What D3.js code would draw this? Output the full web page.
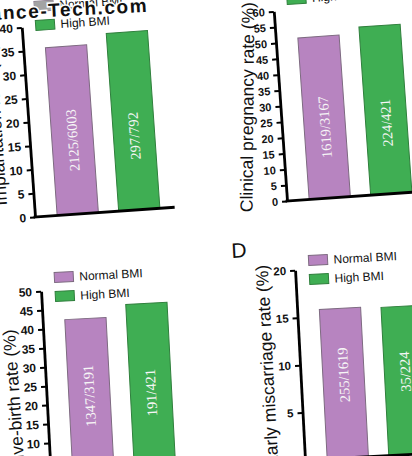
<!DOCTYPE html>
<html>
<head>
<meta charset="utf-8">
<script src="https://cdn.jsdelivr.net/npm/d3@7"></script>
<style>
  body { margin: 0; background: #fff; overflow: hidden; }
</style>
</head>
<body>
<div id="chart"></div>
<script>
// groups and the counts shown inside the bars (events / total)
var groups = ["Normal BMI", "High BMI"];
var implantN = [2125, 297],  implantD = [6003, 792];
var pregN    = [1619, 224],  pregD    = [3167, 421];
var liveN    = [1347, 191],  liveD    = [3191, 421];
var miscN    = [255, 35],    miscD    = [1619, 224];
var yMaxes = [40, 60, 50, 20];
var titles = ["Implantation rate (%)", "Clinical pregnancy rate (%)", "Live-birth rate (%)", "Early miscarriage rate (%)"];

var colors = ["#b784c0", "#3fae53"];
var strokes = ["#7d6a80", "#2f7f3c"];

var width = 412, height = 456;

var svg = d3.select("#chart")
  .append("svg")
  .attr("width", width)
  .attr("height", height)
  .style("background", "#fff");

// layout of each panel (the photo is slightly tilted)
var panels = [
  { n: implantN, d: implantD, max: yMaxes[0], title: titles[0], x: 35,  y: 217, angle: -4, tick: 12,
    titleV: -95, titleTilt: 0, legendV: -191, labelV: -74, letter: null },
  { n: pregN,    d: pregD,    max: yMaxes[1], title: titles[1], x: 287, y: 201, angle: -4, tick: 11,
    titleV: -96, titleTilt: 4.5, legendV: -201, labelV: -71, letter: null },
  { n: liveN,    d: liveD,    max: yMaxes[2], title: titles[2], x: 51,  y: 481, angle: -3, tick: 12,
    titleV: -84, titleTilt: -1, legendV: -184, labelV: -83, letter: null },
  { n: miscN,    d: miscD,    max: yMaxes[3], title: titles[3], x: 305, y: 460, angle: -3, tick: 11.5,
    titleV: -96, titleTilt: 0, legendV: -180, labelV: -83, letter: "D" }
];

var axisH = 190, axisW = 140;

panels.forEach(function(p) {
  var g = svg.append("g")
    .attr("transform", "translate(" + p.x + "," + p.y + ") rotate(" + p.angle + ")");

  var x = d3.scaleBand()
    .domain(groups)
    .range([0, axisW])
    .paddingInner(0.33)
    .paddingOuter(0.3)
    .align(0.6);

  var y = d3.scaleLinear()
    .domain([0, p.max])
    .range([0, -axisH]);

  var rate = function(i) { return p.n[i] / p.d[i] * 100; };

  g.selectAll(".bar")
    .data(groups)
    .enter().append("rect")
    .attr("class", "bar")
    .attr("x", function(d) { return x(d); })
    .attr("y", function(d, i) { return y(rate(i)); })
    .attr("width", x.bandwidth())
    .attr("height", function(d, i) { return y(0) - y(rate(i)); })
    .attr("fill", function(d, i) { return colors[i]; })
    .attr("stroke", function(d, i) { return strokes[i]; })
    .attr("stroke-width", 1);

  g.selectAll(".count")
    .data(groups)
    .enter().append("text")
    .attr("class", "count")
    .attr("transform", function(d) {
      return "translate(" + (x(d) + x.bandwidth() / 2) + "," + p.labelV + ") rotate(-90)";
    })
    .attr("text-anchor", "middle")
    .attr("dominant-baseline", "central")
    .attr("font-family", "Liberation Serif, Times New Roman, serif")
    .attr("font-size", 14.5)
    .attr("fill", "#f6f6f6")
    .text(function(d, i) { return p.n[i] + "/" + p.d[i]; });

  // y axis
  var yAxis = d3.axisLeft(y)
    .tickValues(d3.range(0, p.max + 1, 5))
    .tickSize(5)
    .tickSizeOuter(0)
    .tickPadding(4);

  var ya = g.append("g").call(yAxis);
  ya.select(".domain").attr("stroke", "#000").attr("stroke-width", 2.8);
  ya.selectAll(".tick line").attr("stroke", "#000").attr("stroke-width", 2);
  ya.selectAll(".tick text")
    .attr("font-family", "Liberation Sans, Arial, sans-serif")
    .attr("font-weight", "bold")
    .attr("font-size", p.tick)
    .attr("fill", "#111");

  // x baseline
  g.append("line")
    .attr("x1", -1.4).attr("x2", axisW)
    .attr("y1", 0).attr("y2", 0)
    .attr("stroke", "#000")
    .attr("stroke-width", 2.8);

  // axis title
  g.append("text")
    .attr("transform", "translate(-27," + p.titleV + ") rotate(" + (-90 + p.titleTilt) + ")")
    .attr("text-anchor", "middle")
    .attr("font-family", "Liberation Sans, Arial, sans-serif")
    .attr("font-size", 17.5)
    .attr("fill", "#111")
    .text(p.title);

  // legend
  var leg = g.selectAll(".legend")
    .data(groups)
    .enter().append("g")
    .attr("class", "legend")
    .attr("transform", function(d, i) {
      return "translate(14," + (p.legendV - 19 * (1 - i)) + ")";
    });

  leg.append("rect")
    .attr("x", 0).attr("y", -5)
    .attr("width", 19).attr("height", 10)
    .attr("fill", function(d, i) { return colors[i]; })
    .attr("stroke", function(d, i) { return strokes[i]; })
    .attr("stroke-width", 1);

  leg.append("text")
    .attr("x", 25)
    .attr("dy", "0.35em")
    .attr("font-family", "Liberation Sans, Arial, sans-serif")
    .attr("font-size", 12)
    .attr("fill", "#111")
    .text(function(d) { return d; });

  if (p.letter) {
    g.append("text")
      .attr("x", -55).attr("y", -213)
      .attr("text-anchor", "middle")
      .attr("dominant-baseline", "central")
      .attr("font-family", "Liberation Sans, Arial, sans-serif")
      .attr("font-size", 21)
      .attr("fill", "#111")
      .text(p.letter);
  }
});

// greyed legend swatch under the watermark in the first panel
svg.append("g")
  .attr("transform", "translate(35,217) rotate(-4)")
  .append("rect")
  .attr("x", 14).attr("y", -215)
  .attr("width", 19).attr("height", 10)
  .attr("fill", "#a3a3a3");

// watermark
svg.append("text")
  .attr("transform", "translate(-9,20) rotate(-3)")
  .attr("font-family", "Liberation Sans, Arial, sans-serif")
  .attr("font-weight", "bold")
  .attr("font-size", 19)
  .attr("letter-spacing", 1.6)
  .attr("fill", "#111")
  .attr("stroke", "#fff")
  .attr("stroke-width", 3)
  .attr("paint-order", "stroke")
  .text("ance-Tech.com");
</script>
</body>
</html>
